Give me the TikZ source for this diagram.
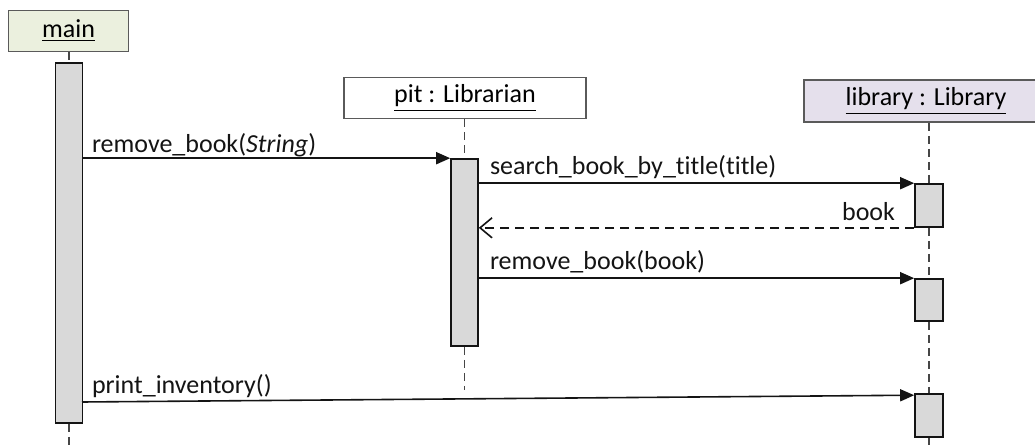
\documentclass[tikz,border=0pt]{standalone}
\usepackage{fontspec}
\setmainfont[Ligatures=NoCommon]{Carlito}
\usetikzlibrary{arrows.meta}
\begin{document}
\begin{tikzpicture}[x=0.5pt,y=0.5pt,
  every node/.style={font=\fontsize{13}{15}\selectfont},
  objbox/.style={draw=borderColor,line width=0.9pt,inner sep=0pt,minimum height=20.5pt},
  actbar/.style={draw=drawColor,line width=0.8pt,fill=actColor,inner sep=0pt,minimum width=13.5pt},
  lifeline/.style={draw=lifeColor,line width=0.8pt,dash pattern=on 4pt off 2.5pt},
  msg/.style={draw=drawColor,line width=0.8pt,-{Triangle[length=7pt,width=6pt]}},
  reply/.style={draw=drawColor,line width=0.8pt,dash pattern=on 4.5pt off 3pt,-{Straight Barb[length=6pt,width=10pt]}},
  lbl/.style={text=drawColor,anchor=base west,inner sep=0pt,outer sep=0pt}]
\definecolor{fillColor}{RGB}{255,255,255}
\definecolor{drawColor}{RGB}{20,20,20}
\definecolor{borderColor}{RGB}{90,90,90}
\definecolor{lifeColor}{RGB}{70,70,70}
\definecolor{actColor}{RGB}{217,217,217}
\definecolor{mainColor}{RGB}{235,240,222}
\definecolor{libColor}{RGB}{229,224,236}
\path[use as bounding box,fill=fillColor] (0,0) rectangle (1035,445);

% objects
\node[objbox,fill=mainColor,minimum width=60pt] (main) at ( 68.5,414) {\underline{main}};
\node[objbox,fill=fillColor,minimum width=121pt] (pit) at (465,347) {\underline{pit : Librarian}};
\node[objbox,fill=libColor,minimum width=122pt,minimum height=21pt] (library) at (926,344) {\underline{library : Library}};

% activations
\node[actbar,minimum height=180pt] (mainact) at ( 69,202) {};
\node[actbar,minimum height=93.5pt] (pitact) at (464.5,192.5) {};
\node[actbar,minimum width=14pt,minimum height=21.5pt] (libact1) at (929,239.5) {};
\node[actbar,minimum width=14pt,minimum height=21pt] (libact2) at (929,145) {};
\node[actbar,minimum width=14pt,minimum height=21.5pt] (libact3) at (929, 29.5) {};

\coordinate (mainend) at ( 69,  0);
\coordinate (pitend) at (464.5, 55);
\coordinate (libend) at (929,  0);
\coordinate (printfrom) at ( 82, 43);

% lifelines
\path[lifeline] (main.south -| mainact.north) -- (mainact.north);
\path[lifeline] (mainact.south) -- (mainend);
\path[lifeline] (pit.south -| pitact.north) -- (pitact.north);
\path[lifeline] (pitact.south) -- (pitend);
\path[lifeline] (library.south -| libact1.north) -- (libact1.north);
\path[lifeline] (libact1.south) -- (libact2.north);
\path[lifeline] (libact2.south) -- (libact3.north);
\path[lifeline] (libact3.south) -- (libend);

% messages
\path[msg] (mainact.east |- pitact.north) -- (pitact.north west);
\path[msg] (pitact.east |- libact1.north) -- (libact1.north west);
\path[reply] (libact1.south west) -- (pitact.east |- libact1.south);
\path[msg] (pitact.east |- libact2.north) -- (libact2.north west);
\path[msg] (printfrom) -- ([yshift=-1pt]libact3.north west);

\node[lbl] (lremove) at ( 92,292) {remove\_book(\textit{String})};
\node[lbl] (lsearch) at (490,270) {search\_book\_by\_title(title)};
\node[lbl,anchor=base east] (lbook) at (895,224) {book};
\node[lbl] (lremovebook) at (490,175) {remove\_book(book)};
\node[lbl] (lprint) at ( 92, 51) {print\_inventory()};
\end{tikzpicture}
\end{document}
